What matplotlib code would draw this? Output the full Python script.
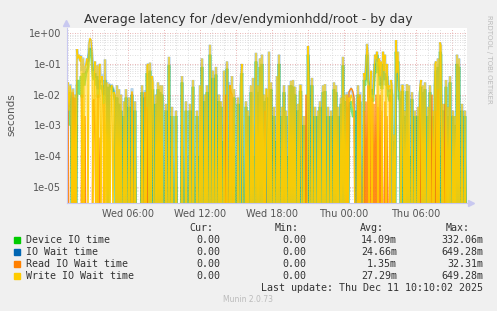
"""Munin 'Average latency for /dev/endymionhdd/root - by day' (rrdtool look)."""

import matplotlib
matplotlib.use("Agg")
import matplotlib.pyplot as plt
import numpy as np
from matplotlib.patches import Rectangle
from matplotlib.lines import Line2D
from matplotlib.ticker import FixedLocator, NullFormatter

W, H = 497, 311

# sample times in minutes since Wed 00:00 (5 minute steps); unlisted samples are 0
t_spk = [55, 60, 65, 70, 75, 85, 95,
         105, 110, 115, 120, 125, 130, 135, 140, 145, 150, 155, 160, 165, 170,
         175, 180, 185, 190, 195, 200, 205, 210, 215, 220, 225, 230, 235, 240,
         245, 250, 255, 265, 270, 275, 280, 285, 290, 295, 305, 315, 325, 340,
         350, 365, 380, 395, 430, 445, 455, 460, 470, 480, 485, 500, 510, 520,
         530, 550, 565, 580, 600, 630, 650, 670, 685, 705, 720, 730, 745, 755,
         770, 785, 800, 815, 825, 840, 855, 870, 880, 890, 910, 925, 930, 950,
         960, 975, 985, 1000, 1010, 1020, 1030, 1040, 1050, 1055, 1065, 1075,
         1090, 1105, 1115, 1130, 1140, 1150, 1165, 1175, 1185, 1195, 1210, 1220,
         1225, 1240, 1260, 1265, 1280, 1295, 1310, 1320, 1335, 1345, 1360, 1375,
         1390, 1400, 1410, 1425, 1435, 1445,
         1455, 1465, 1470, 1475, 1480, 1485, 1490, 1495, 1510, 1520, 1540, 1545,
         1550, 1555, 1560, 1565, 1570, 1575, 1580, 1585, 1590, 1595, 1600, 1605,
         1610, 1615, 1620, 1625, 1630, 1635, 1640, 1645, 1650, 1655, 1660, 1665,
         1670, 1675, 1680, 1690, 1700, 1705, 1710, 1715, 1720, 1730, 1735, 1745,
         1755, 1765, 1780, 1795, 1810, 1820, 1825, 1835, 1845, 1860, 1870, 1885,
         1895, 1900, 1910, 1920, 1925, 1935, 1950, 1960, 1970, 1985, 1995, 2005,
         2015, 2030, 2045]

write_v = [.02, .025, .003, .02, .012, .015, .01,
           .3, .15, .2, .12, .18, 0, .15, 0, .08, .1, .15, 0, .45, .7,
           .6, .25, 0, .05, .12, 0, .09, 0, .08, .1, 0, .04, .015, 0,
           .14, 0, .025, .022, 0, .018, .02, 0, .012, .01, .02, .015, .01, .006,
           .015, .008, .013, .006, .02, .012, .09, .1, .11, .04, .025, .01, .025, .02,
           .02, .005, .17, .004, .003, .04, .006, .005, .03, .003, .02, .15, .01, .02,
           .42, .06, .08, .01, .006, .06, .12, .02, .04, .015, .008, .04, .1, .006,
           .003, .02, .035, .23, .02, .15, .2, .01, .015, .015, .25, .025,
           .004, .04, .2, .004, .02, .003, .02, .028, .03, .018, .005, .02,
           .02, .002, .38, .022, .035, .004, .003, .006, .02, .022, .004, .003,
           .025, .02, .004, .008, .17, .01,
           .01, .008, .006, .01, .008, .004, .003, 0, .02, .01, .05, .03,
           .1, .45, .2, 0, .015, .06, 0, .008, .04, .2, .15, .25,
           0, .15, .04, .12, 0, .25, .06, .2, 0, .1, .015, .02,
           0, .03, .02, .0005, .6, .05, .25, .015, .012, .02, .02, .003,
           .022, .02, .012, .003, .004, .02, .03, .02, .025, .004, .02, .003,
           .1, .12, .15, .5, .4, .005, .03, .004, .04, .003, .002, .2,
           .15, .005, .003]

iowait_v = [.02, .025, .004, .022, .014, .016, .01,
            .3, .16, .2, .13, .19, .06, .16, .05, .09, .1, .15, .12, .45, .65,
            .55, .25, .1, .06, .12, .035, .09, .015, .08, .1, .025, .045, .018, .01,
            .14, .022, .025, .022, .021, .019, .02, .017, .013, .011, .02, .015, .01, .006,
            .015, .008, .016, .006, .02, .014, .09, .1, .11, .04, .025, .01, .025, .02,
            .02, .005, .17, .004, .003, .04, .006, .005, .03, .003, .02, .15, .01, .02,
            .42, .06, .08, .01, .006, .06, .12, .025, .04, .015, .008, .04, .1, .006,
            .003, .02, .035, .23, .02, .15, .2, .01, .015, .015, .25, .025,
            .004, .04, .2, .004, .02, .003, .02, .028, .03, .018, .005, .02,
            .02, .002, .38, .022, .035, .004, .003, .006, .02, .022, .004, .003,
            .025, .02, .004, .008, .17, .01,
            .012, .012, .013, .015, .013, .01, .006, .004, .02, .012, .05, .03,
            .1, .45, .2, .03, .02, .06, .02, .01, .04, .2, .15, .25,
            .12, .15, .04, .12, .02, .25, .06, .2, .03, .1, .015, .02,
            .012, .03, .02, .0005, .6, .05, .25, .015, .012, .02, .02, .003,
            .022, .02, .012, .003, .004, .01, .03, .02, .025, .004, .02, .003,
            .1, .12, .15, .5, .4, .005, .03, .004, .04, .003, .002, .2,
            .15, .005, .003]

device_v = [.008, .01, .001, .012, .006, .008, .004,
            .02, .03, .015, .01, .04, .008, .05, .02, .03, .05, .06, .08, .2, .33,
            .25, .1, .04, .03, .05, .02, .04, .008, .03, .02, .015, .02, .01, .005,
            .03, .015, .018, .015, .018, .016, .017, .014, .01, .006, .008, .005, .003, .002,
            .008, .004, .01, .003, .012, .008, .05, .0005, .06, .00005, .015, .005, .015, .012,
            .01, .003, .09, .002, .002, .025, .003, .003, .018, .002, .0001, .08, .006, .012,
            .2, .035, .045, .006, .004, .0003, .07, .00001, .0002, .008, .005, .02, .05, .004,
            .002, .012, .0001, .12, .012, .08, .1, .006, .00005, .008, .0008, .015,
            .002, .0003, .1, .002, .012, .002, .0001, .02, .018, .01, .003, .012,
            .012, .001, .2, .013, .02, .002, .002, .004, .012, .013, .002, .002,
            .015, .012, .002, .005, .09, .006,
            .004, .003, .005, .006, .003, .002, .002, .003, .01, .006, .03, .02,
            .05, .2, .03, .02, .01, .008, .015, .006, .02, .1, .05, .2,
            .1, .06, .02, .03, .015, .1, .03, .05, .02, .04, .01, .008,
            .006, .015, .01, .0003, .25, .03, .12, .008, .006, .012, .012, .002,
            .013, .0001, .007, .002, .002, .012, .018, .012, .015, .002, .012, .002,
            .02, .06, .08, .25, .2, .003, .018, .002, .025, .002, .001, .1,
            .08, .003, .002]

read_t = [55, 60, 85, 95, 130, 145, 185, 190, 195, 210, 220, 240, 380, 445, 455,
          850, 870, 875, 880, 1045, 1250, 1455, 1465, 1470, 1475, 1480, 1485,
          1490, 1510, 1520, 1540, 1550, 1560, 1570, 1580, 1590, 1600, 1610, 1620,
          1630, 1645, 1655, 1670, 1820, 1880, 1900, 1910, 1945]
read_v = [.008, .01, .012, .008, .01, .002, .006, .007, .0003, .01, .0004, .005,
          .012, .012, .004, .01, .02, .012, .01, .003, .01, .01, .012, .014, .016,
          .015, .012, .008, .008, .01, .003, .006, .02, .02, .008, .005, .01,
          .004, .01, .003, .006, .002, .01, .008, .01, .003, .015, .005]

labels = ["Device IO time", "IO Wait time", "Read IO Wait time", "Write IO Wait time"]
colors = ["#00CC00", "#0066B3", "#FF8000", "#FFCC00"]
cur = ["0.00", "0.00", "0.00", "0.00"]
mins = ["0.00", "0.00", "0.00", "0.00"]
avgs = ["14.09m", "24.66m", "1.35m", "27.29m"]
maxs = ["332.06m", "649.28m", "32.31m", "649.28m"]

xtick_pos = [360, 720, 1080, 1440, 1800]
xtick_lab = ["Wed 06:00", "Wed 12:00", "Wed 18:00", "Thu 00:00", "Thu 06:00"]

# 5 minute grid covering the plot
t_grid = np.arange(55, 2060, 5)


def on_grid(times, vals):
    s = np.zeros(len(t_grid))
    idx = (np.asarray(times) - 55) // 5
    s[idx] = vals
    return np.where(s > 0, s, 1e-7)


series = [on_grid(t_spk, device_v), on_grid(t_spk, iowait_v),
          on_grid(read_t, read_v), on_grid(t_spk, write_v)]
# rrdtool-ish blending: the under-lines are wider and translucent
widths = [1.9, 1.9, 1.0, 0.9]
alphas = [0.5, 0.28, 0.9, 0.95]

fig = plt.figure(figsize=(W / 100, H / 100), dpi=100, facecolor="#F0F0F0")
ax = fig.add_axes([67 / W, 1 - 203 / H, 400 / W, 175 / H], facecolor="white")

for s, c, lw, a in zip(series, colors, widths, alphas):
    ax.plot(t_grid, s, color=c, lw=lw, alpha=a, solid_joinstyle="miter")

ax.set_yscale("log")
ax.set_ylim(10 ** -5.53, 10 ** 0.17)
ax.set_xlim(55, 2055)

# grid: minor grey, major red, both dotted
for x in range(60, 2055, 60):
    major = x % 180 == 0
    ax.axvline(x, color="#e29a9a" if major else "#d4d4d4", lw=0.6,
               ls=(0, (1, 2)), zorder=0)
for d in range(-6, 1):
    for k in range(1, 10):
        v = k * 10.0 ** d
        if 10 ** -5.53 < v < 10 ** 0.17:
            ax.axhline(v, color="#e29a9a" if k == 1 else "#d4d4d4", lw=0.6,
                       ls=(0, (1, 2)), zorder=0)

ax.yaxis.set_major_locator(FixedLocator([1e0, 1e-1, 1e-2, 1e-3, 1e-4, 1e-5]))
ax.set_yticklabels(["1e+00", "1e-01", "1e-02", "1e-03", "1e-04", "1e-05"])
ax.yaxis.set_minor_formatter(NullFormatter())
ax.tick_params(axis="y", which="both", length=0, pad=4, labelsize=7, labelcolor="#555555")
ax.set_xticks(xtick_pos)
ax.set_xticklabels(xtick_lab)
ax.tick_params(axis="x", which="both", length=0, pad=4, labelsize=7, labelcolor="#555555")
for sp in ["top", "right"]:
    ax.spines[sp].set_visible(False)
for sp in ["left", "bottom"]:
    ax.spines[sp].set_color("#c8c8f0")
    ax.spines[sp].set_linewidth(0.8)

# axis arrows
fig.add_artist(Line2D([66 / W], [1 - 23 / H], marker="^", color="#c8c8f0",
                      markersize=4, transform=fig.transFigure))
fig.add_artist(Line2D([471 / W], [1 - 203 / H], marker=">", color="#c8c8f0",
                      markersize=4, transform=fig.transFigure))


def fx(x):
    return x / W


def fy(y):
    return 1 - y / H


fig.text(fx(248), fy(20), "Average latency for /dev/endymionhdd/root - by day",
         ha="center", va="center", fontsize=9, color="#333333")
fig.text(fx(11), fy(115), "seconds", rotation=90, ha="center", va="center",
         fontsize=7.5, color="#555555")
fig.text(fx(489), fy(15), "RRDTOOL / TOBI OETIKER", rotation=270, ha="center",
         va="top", fontsize=5, color="#bbbbbb")

mono = dict(family="DejaVu Sans Mono", fontsize=7.2, color="#333333", va="center")
for txt, xr in zip(["Cur:", "Min:", "Avg:", "Max:"], [213, 299, 384, 470]):
    fig.text(fx(xr), fy(228), txt, ha="right", **mono)
rows_y = [240, 252, 264, 276]
for i, lab in enumerate(labels):
    y = rows_y[i]
    fig.add_artist(Rectangle((fx(14), fy(y + 3)), 6 / W, 6 / H, color=colors[i],
                             transform=fig.transFigure))
    fig.text(fx(26), fy(y), lab, ha="left", **mono)
    fig.text(fx(220), fy(y), cur[i], ha="right", **mono)
    fig.text(fx(306), fy(y), mins[i], ha="right", **mono)
    fig.text(fx(397), fy(y), avgs[i], ha="right", **mono)
    fig.text(fx(483), fy(y), maxs[i], ha="right", **mono)
fig.text(fx(483), fy(288), "Last update: Thu Dec 11 10:10:02 2025", ha="right", **mono)
fig.text(fx(248), fy(300), "Munin 2.0.73", ha="center", va="center",
         fontsize=5.5, color="#bbbbbb")

fig.savefig("out.png", dpi=100, facecolor=fig.get_facecolor())
